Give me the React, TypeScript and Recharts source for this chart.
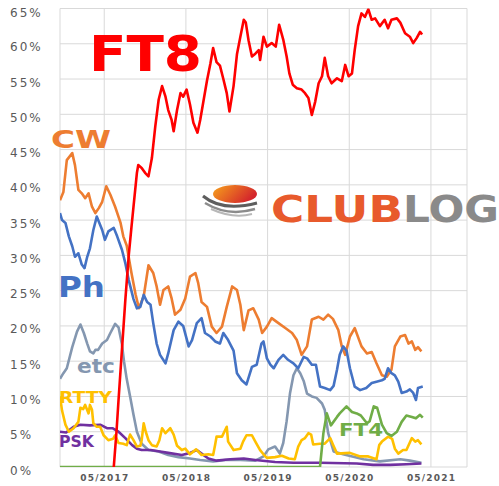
import { CartesianGrid, Line, LineChart, XAxis, YAxis } from "recharts";

type Pair = [number, number];

// x = months counted from Jan 2016 (16 = May 2017), y = share of QSOs in %
const ft8: Pair[] = [
  [17.4, 0], [17.8, 5.0], [18.1, 9.5], [18.6, 16.6], [19.1, 23.7], [19.6, 30.0], [20.0, 34.0],
  [20.3, 36.9], [20.8, 41.7], [21.0, 42.8], [21.5, 42.4], [22.0, 41.7], [22.5, 41.2], [23.0, 43.8],
  [23.5, 48.3], [24.0, 52.1], [24.5, 54.0], [25.0, 52.5], [25.4, 50.6], [25.9, 49.2], [26.2, 47.6],
  [26.7, 50.6], [27.2, 53.0], [27.6, 52.5], [28.1, 53.5], [28.6, 51.4], [29.1, 48.8], [29.7, 47.4],
  [30.1, 49.2], [30.6, 52.0], [31.1, 54.8], [31.6, 57.2], [32.0, 59.4], [32.5, 57.4], [33.0, 56.9],
  [33.5, 55.0], [34.0, 53.0], [34.4, 50.4], [35.0, 54.0], [35.5, 58.5], [36.0, 61.0], [36.5, 63.4],
  [36.8, 63.0], [37.2, 60.5], [37.7, 58.2], [38.2, 58.6], [38.7, 59.1], [38.9, 57.7], [39.4, 61.0],
  [39.9, 59.6], [40.6, 60.1], [41.2, 59.6], [41.7, 62.7], [42.3, 60.6], [42.8, 58.2], [43.2, 55.8],
  [43.7, 54.2], [44.3, 53.7], [45.0, 53.5], [45.5, 53.0], [46.0, 52.3], [46.5, 49.9], [47.0, 51.8],
  [47.5, 54.4], [48.0, 55.4], [48.4, 58.0], [48.9, 55.4], [49.4, 54.4], [50.2, 55.1], [50.9, 54.7],
  [51.4, 57.0], [51.9, 55.4], [52.4, 55.8], [52.8, 59.1], [53.3, 62.5], [53.8, 64.3], [54.3, 63.8],
  [54.8, 64.9], [55.3, 63.4], [55.8, 63.6], [56.5, 62.5], [57.2, 63.4], [57.7, 62.2], [58.2, 63.4],
  [59.0, 63.6], [59.5, 63.0], [60.2, 61.5], [60.9, 61.0], [61.4, 60.1], [61.9, 60.8], [62.4, 61.7],
  [62.7, 61.3],
];

const cw: Pair[] = [
  [9.5, 37.8], [10.0, 39.0], [10.5, 43.5], [11.3, 44.5], [11.7, 42.8], [12.2, 39.3], [12.7, 38.8],
  [13.2, 38.1], [13.7, 38.8], [14.2, 36.9], [14.7, 36.0], [15.2, 36.7], [15.7, 37.6], [16.3, 39.8],
  [16.9, 38.6], [17.6, 36.9], [18.4, 34.6], [18.8, 32.7], [19.3, 31.4], [20.0, 27.5], [20.6, 24.5],
  [21.1, 22.5], [21.8, 24.2], [22.5, 28.6], [23.2, 27.5], [23.7, 25.6], [24.2, 23.0], [24.7, 25.1],
  [25.4, 25.6], [25.9, 23.9], [26.4, 21.6], [27.2, 22.3], [27.9, 23.9], [28.6, 27.0], [29.4, 27.5],
  [29.8, 26.1], [30.3, 23.4], [31.1, 22.7], [31.8, 19.9], [32.5, 19.0], [33.3, 19.9], [34.0, 22.7],
  [34.8, 25.6], [35.5, 25.1], [36.0, 23.0], [36.5, 19.4], [37.2, 22.2], [37.9, 22.5], [38.7, 20.9],
  [39.2, 19.0], [39.9, 19.9], [40.6, 21.1], [41.6, 20.4], [42.6, 19.7], [43.6, 19.0], [44.3, 18.0],
  [45.0, 15.9], [45.8, 17.1], [46.5, 20.9], [47.5, 21.3], [48.2, 20.9], [48.9, 21.6], [49.6, 21.0],
  [50.4, 19.4], [50.9, 17.1], [51.4, 15.9], [52.1, 18.5], [52.8, 19.7], [53.8, 17.1], [54.6, 16.1],
  [55.3, 16.3], [56.0, 14.7], [56.8, 13.0], [57.5, 12.8], [58.2, 13.8], [58.7, 17.1], [59.5, 18.5],
  [60.2, 18.7], [60.7, 17.5], [61.2, 17.8], [61.7, 16.6], [62.1, 17.0], [62.6, 16.4],
];

const ph: Pair[] = [
  [9.5, 36.0], [9.8, 35.0], [10.3, 34.6], [10.8, 32.7], [11.3, 31.3], [11.7, 29.8], [12.2, 30.3],
  [12.7, 28.7], [13.1, 28.2], [13.5, 29.8], [13.9, 31.0], [14.4, 33.6], [14.9, 35.5], [15.7, 33.6],
  [16.1, 32.2], [16.6, 33.4], [17.4, 33.9], [17.9, 32.7], [18.6, 30.8], [19.1, 28.9], [19.6, 26.5],
  [20.3, 23.8], [20.8, 22.5], [21.3, 22.7], [21.8, 24.4], [22.3, 23.4], [22.8, 23.0], [23.2, 20.4],
  [23.7, 17.5], [24.2, 15.9], [25.0, 14.7], [25.4, 16.1], [26.2, 19.4], [26.9, 20.6], [27.6, 20.0],
  [28.4, 17.1], [28.9, 18.0], [29.6, 20.4], [30.3, 21.1], [30.8, 19.0], [31.6, 18.5], [32.3, 17.8],
  [33.0, 17.5], [33.5, 19.0], [34.2, 18.0], [35.0, 16.5], [35.5, 13.3], [36.2, 12.3], [36.9, 11.7],
  [37.7, 14.2], [38.4, 14.5], [39.1, 17.5], [39.4, 17.8], [39.9, 15.4], [40.4, 14.5], [40.9, 14.0],
  [41.6, 15.2], [42.3, 15.9], [43.0, 15.2], [43.8, 14.7], [44.5, 14.0], [45.3, 15.6], [45.8, 15.4],
  [46.5, 14.5], [47.1, 14.5], [47.7, 11.4], [48.4, 11.2], [49.2, 10.9], [49.7, 11.5], [50.2, 13.8],
  [50.6, 15.9], [51.1, 17.1], [51.6, 16.5], [52.1, 14.0], [52.8, 11.4], [53.6, 10.9], [54.5, 11.2],
  [55.3, 11.9], [56.0, 12.1], [56.8, 12.3], [57.2, 12.5], [57.7, 14.0], [58.2, 13.3], [58.7, 13.0],
  [59.2, 12.1], [59.7, 10.5], [60.4, 10.7], [60.9, 11.0], [61.4, 10.5], [61.8, 9.5], [62.1, 11.2],
  [62.8, 11.4],
];

const etc: Pair[] = [
  [9.5, 12.5], [10.0, 13.3], [10.5, 14.0], [11.3, 17.0], [12.0, 19.2], [12.5, 20.2], [13.0, 19.0],
  [13.5, 17.5], [13.9, 16.4], [14.4, 16.1], [14.7, 16.6], [15.1, 16.6], [15.7, 17.5], [16.4, 18.0],
  [16.9, 19.0], [17.6, 20.3], [18.1, 19.8], [18.6, 17.4], [18.9, 15.0], [19.3, 12.5], [19.8, 10.0],
  [20.3, 7.4], [20.8, 5.0], [21.5, 3.3], [22.5, 2.4], [24.0, 2.2], [25.4, 1.7], [26.9, 1.4],
  [28.6, 1.2], [30.1, 1.0], [32.0, 0.8], [33.8, 1.0], [36.0, 1.0], [38.2, 0.9], [39.4, 1.5],
  [40.1, 2.5], [41.1, 2.9], [41.8, 1.9], [42.3, 3.4], [42.8, 6.5], [43.3, 10.5], [43.8, 13.0],
  [44.3, 14.0], [44.8, 13.3], [45.3, 12.2], [45.8, 10.4], [46.5, 10.0], [47.2, 9.8], [48.0, 9.0],
  [48.4, 8.1], [48.9, 4.8], [49.7, 2.2], [51.1, 1.8], [54.1, 1.1], [56.5, 0.8], [59.5, 1.1],
  [60.9, 0.9], [62.6, 0.6],
];

const rtty: Pair[] = [
  [9.5, 10.0], [9.8, 8.0], [10.3, 6.0], [10.8, 5.0], [11.5, 5.5], [12.2, 6.4], [12.5, 8.4],
  [12.9, 8.2], [13.2, 8.8], [13.7, 7.6], [13.9, 8.8], [14.2, 8.1], [14.4, 6.2], [14.9, 5.7],
  [15.4, 5.7], [15.9, 4.5], [16.6, 3.8], [17.3, 4.0], [17.6, 4.5], [18.1, 3.4], [18.8, 3.3],
  [19.3, 3.1], [19.8, 4.6], [20.3, 3.8], [20.8, 2.9], [21.3, 3.0], [21.5, 3.8], [21.8, 6.2],
  [22.1, 5.0], [22.5, 3.8], [23.0, 3.1], [23.7, 2.9], [24.1, 3.8], [24.5, 5.5], [25.0, 4.8],
  [25.7, 5.5], [26.2, 4.6], [26.7, 3.0], [27.4, 2.4], [27.9, 2.6], [28.6, 1.8], [29.5, 2.5],
  [30.3, 1.7], [31.3, 1.8], [32.0, 1.7], [32.3, 3.2], [32.5, 4.3], [33.3, 4.3], [34.0, 5.7],
  [34.2, 3.6], [35.0, 2.4], [36.0, 2.6], [36.4, 3.6], [36.9, 4.5], [37.7, 4.5], [38.2, 3.6],
  [38.9, 2.4], [39.4, 1.8], [39.9, 1.3], [41.1, 1.4], [42.1, 1.6], [43.1, 1.2], [44.0, 1.1],
  [44.5, 2.9], [45.0, 3.8], [45.5, 4.1], [46.0, 4.8], [46.4, 4.6], [46.7, 3.2], [47.7, 3.3],
  [48.4, 3.3], [49.2, 4.1], [49.6, 3.2], [50.2, 1.9], [52.1, 2.0], [53.6, 1.5], [54.8, 1.5],
  [56.0, 1.1], [56.4, 3.1], [56.8, 3.6], [57.7, 4.3], [58.3, 4.0], [58.7, 2.6], [59.2, 1.9],
  [59.9, 2.4], [60.4, 2.4], [61.2, 4.1], [61.7, 3.6], [62.1, 3.8], [62.6, 3.2],
];

const psk: Pair[] = [
  [9.5, 5.0], [10.4, 4.9], [11.5, 5.7], [12.5, 6.0], [13.9, 5.9], [15.4, 6.0], [16.4, 5.5],
  [17.2, 5.5], [18.1, 5.0], [19.1, 4.1], [20.1, 3.1], [20.8, 2.6], [21.5, 2.4], [22.8, 2.4],
  [24.2, 2.2], [25.4, 2.0], [27.4, 1.7], [28.6, 2.0], [29.6, 2.4], [30.3, 1.9], [31.3, 1.2],
  [32.5, 0.9], [34.5, 1.1], [36.5, 1.2], [38.2, 1.0], [41.1, 0.7], [43.8, 0.6], [47.7, 0.6],
  [53.1, 0.5], [55.5, 0.3], [58.0, 0.3], [60.4, 0.4], [62.6, 0.5],
];

const ft4: Pair[] = [
  [9.5, 0], [47.7, 0], [48.2, 4.8], [48.7, 7.6], [49.3, 5.9], [50.2, 7.1], [50.6, 7.6],
  [51.6, 8.6], [52.4, 7.8], [53.1, 7.6], [53.7, 7.3], [54.6, 6.2], [55.0, 6.5], [55.6, 8.6],
  [56.1, 8.4], [56.8, 6.0], [57.5, 4.8], [58.2, 4.4], [59.0, 5.0], [59.7, 6.4], [60.4, 7.3],
  [61.2, 7.1], [61.8, 6.9], [62.4, 7.4], [62.8, 7.0],
];

const X_TICKS = [16, 28, 40, 52, 64];
const X_TICK_LABELS = ["05/2017", "05/2018", "05/2019", "05/2020", "05/2021"];
const Y_TICKS = [0, 5, 10, 15, 20, 25, 30, 35, 40, 45, 50, 55, 60, 65];

const SERIES = [
  { key: "etc", data: etc, color: "#8497b0" },
  { key: "psk", data: psk, color: "#7030a0" },
  { key: "rtty", data: rtty, color: "#ffc000" },
  { key: "ft4", data: ft4, color: "#70ad47" },
  { key: "cw", data: cw, color: "#ed7d31" },
  { key: "ph", data: ph, color: "#4472c4" },
  { key: "ft8", data: ft8, color: "#ff0000" },
];

const W = 499;
const H = 486;
const FONT = "'DejaVu Sans', Verdana, sans-serif";

const toPoints = (pairs: Pair[]) => pairs.map(([m, v]) => ({ m, v }));

function YTick({ y, payload }: any) {
  return (
    <text x={10} y={y + 7.5} fill="#595959" fontSize={12} letterSpacing={2} fontFamily={FONT}>
      {payload.value}%
    </text>
  );
}

function XTick({ x, y, index }: any) {
  return (
    <text
      x={x + 0.6}
      y={y + 13.5}
      textAnchor="middle"
      fill="#595959"
      fontSize={9}
      fontWeight="bold"
      letterSpacing={1.2}
      fontFamily={FONT}
    >
      {X_TICK_LABELS[index]}
    </text>
  );
}

function Label({ x, y, size, width, color, children }: any) {
  return (
    <text
      x={x}
      y={y}
      fontSize={size}
      fontWeight="bold"
      fill={color}
      fontFamily={FONT}
      textLength={width}
      lengthAdjust="spacingAndGlyphs"
    >
      {children}
    </text>
  );
}

/** Club Log watermark: swoosh ball and two-tone wordmark. */
function ClubLogMark() {
  return (
    <g>
      <defs>
        <linearGradient id="orb" x1="0" y1="0" x2="1" y2="0.4">
          <stop offset="0%" stopColor="#f7a21b" />
          <stop offset="100%" stopColor="#d4262c" />
        </linearGradient>
      </defs>
      <ellipse cx={235} cy={194} rx={22} ry={9} fill="url(#orb)" />
      <path d="M203,196 Q222,212 257,203" stroke="#5e5e5e" strokeWidth={3} fill="none" />
      <path d="M205,203 Q228,217 255,209" stroke="#8c8c8c" strokeWidth={2.5} fill="none" />
      <path d="M211,209 Q233,219 252,214" stroke="#b8b8b8" strokeWidth={2} fill="none" />
      <Label x={271} y={221.7} size={38} width={132} color="#e85a2c">CLUB</Label>
      <Label x={403} y={221.7} size={38} width={96} color="#8a8a8a">LOG</Label>
    </g>
  );
}

export default function App() {
  return (
    <div style={{ position: "absolute", left: 0, top: 0, width: W, height: H, background: "#fff" }}>
      <LineChart width={W} height={H} margin={{ top: 8.5, right: 32, bottom: 0, left: 0 }}>
        <CartesianGrid stroke="#d9d9d9" strokeWidth={1} />
        <XAxis
          dataKey="m"
          type="number"
          domain={[9.5, 69.3]}
          ticks={X_TICKS}
          allowDataOverflow
          axisLine={false}
          tickLine={false}
          tickSize={0}
          tickMargin={0}
          height={19}
          tick={<XTick />}
        />
        <YAxis
          type="number"
          domain={[0, 65]}
          ticks={Y_TICKS}
          allowDataOverflow
          axisLine={false}
          tickLine={false}
          tickSize={0}
          width={60}
          tick={<YTick />}
        />
        {SERIES.map((s) => (
          <Line
            key={s.key}
            data={toPoints(s.data)}
            dataKey="v"
            type="linear"
            stroke={s.color}
            strokeWidth={2.6}
            strokeLinejoin="round"
            dot={false}
            activeDot={false}
            isAnimationActive={false}
          />
        ))}
      </LineChart>

      <svg
        width={W}
        height={H}
        style={{ position: "absolute", left: 0, top: 0, pointerEvents: "none" }}
      >
        <Label x={89} y={71} size={50} width={113} color="#ff0000">FT8</Label>
        <Label x={51} y={148.3} size={25} width={60} color="#ed7d31">CW</Label>
        <Label x={58} y={297.3} size={28} width={47} color="#4472c4">Ph</Label>
        <Label x={77} y={372.5} size={20} width={38} color="#8497b0">etc</Label>
        <Label x={59} y={403} size={16} width={53} color="#ffc000">RTTY</Label>
        <Label x={59} y={446.5} size={15} width={35} color="#7030a0">PSK</Label>
        <Label x={339} y={436} size={17} width={44} color="#70ad47">FT4</Label>
        <ClubLogMark />
      </svg>
    </div>
  );
}
